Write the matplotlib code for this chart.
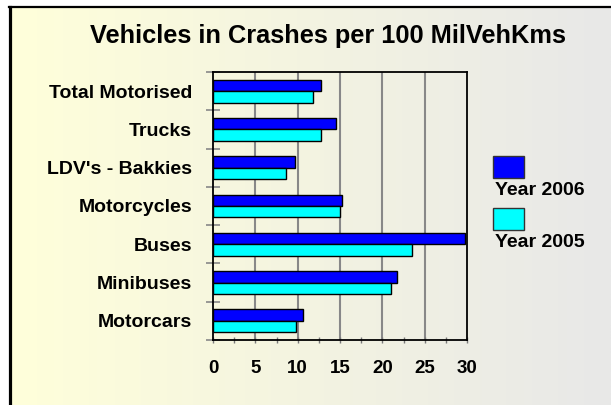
import matplotlib
matplotlib.use("Agg")
import matplotlib.pyplot as plt
import numpy as np
from matplotlib.patches import Rectangle
from matplotlib.lines import Line2D

plt.rcParams['font.family'] = ['Liberation Sans', 'DejaVu Sans']

categories = ["Total Motorised", "Trucks", "LDV's - Bakkies", "Motorcycles",
              "Buses", "Minibuses", "Motorcars"]
year_2006 = [12.7, 14.5, 9.65, 15.2, 29.75, 21.7, 10.6]
year_2005 = [11.8, 12.7, 8.6, 15.05, 23.45, 21.0, 9.85]
series_names = ["Year 2006", "Year 2005"]
x_ticks = [0, 5, 10, 15, 20, 25, 30]

W, H = 611, 405
fig = plt.figure(figsize=(W / 100, H / 100), dpi=100)

# background gradient
bg = fig.add_axes([0, 0, 1, 1], zorder=-10)
grad = np.linspace(0, 1, 256)
c0 = np.array([255, 255, 218]) / 255
c1 = np.array([232, 232, 232]) / 255
img = c0[None, :] * (1 - grad[:, None]) + c1[None, :] * grad[:, None]
bg.imshow(img[None, :, :], aspect='auto', extent=[10 / W, 1, 0, 1 - 7 / H])
bg.set_xlim(0, 1)
bg.set_ylim(0, 1)
bg.axis('off')
# border (left & top)
bg.add_line(Line2D([9.5 / W, 9.5 / W], [0, 1 - 7 / H], color='black', lw=2.3))
bg.add_line(Line2D([8.5 / W, 1], [1 - 7 / H, 1 - 7 / H], color='black', lw=1.6))

ax = fig.add_axes([213 / W, 1 - 340 / H, (467 - 213) / W, (340 - 72) / H])
ax.set_facecolor('none')

n = len(categories)
y = np.arange(n)
bh = 0.3
ax.barh(y - bh / 2, year_2006, height=bh, color='#0000FF', edgecolor='black', lw=1.0, zorder=3)
ax.barh(y + bh / 2, year_2005, height=bh, color='#00FFFF', edgecolor='black', lw=1.0, zorder=3)

ax.set_ylim(n - 0.5, -0.5)
ax.set_xlim(0, 30)
ax.set_yticks(y)
ax.set_yticklabels(categories, fontsize=14, fontweight='bold')
ax.set_yticks(np.arange(-0.5, n, 1.0), minor=True)
ax.tick_params(axis='y', which='major', length=0, pad=15)
ax.tick_params(axis='y', which='minor', direction='inout', length=10, color='#888888', width=1.2)

ax.set_xticks(x_ticks)
ax.set_xticklabels([str(v) for v in x_ticks], fontsize=13.5, fontweight='bold')
ax.set_xticks(np.arange(0, 30.1, 2.5), minor=True)
ax.tick_params(axis='x', which='both', direction='inout', length=5, color='#777777', width=1.0)
ax.tick_params(axis='x', which='major', pad=12)

for v in x_ticks[1:-1]:
    ax.axvline(v, color='#888888', lw=1.5, zorder=1)

for s in ax.spines.values():
    s.set_color('black')
    s.set_linewidth(1.3)

fig.text(328 / W, 1 - 36 / H, "Vehicles in Crashes per 100 MilVehKms",
         ha='center', va='center', fontsize=18.3, fontweight='bold')

# legend
colors = ['#0000FF', '#00FFFF']
patch_tops = [156, 208]
for name, col, top in zip(series_names, colors, patch_tops):
    fig.patches.append(Rectangle((493 / W, 1 - (top + 22) / H), 31 / W, 22 / H,
                                 transform=fig.transFigure, facecolor=col,
                                 edgecolor='#333333', lw=1.0))
    fig.text(495 / W, 1 - (top + 39) / H, name, ha='left', va='baseline',
             fontsize=14, fontweight='bold')

fig.savefig("out.png", dpi=100)
